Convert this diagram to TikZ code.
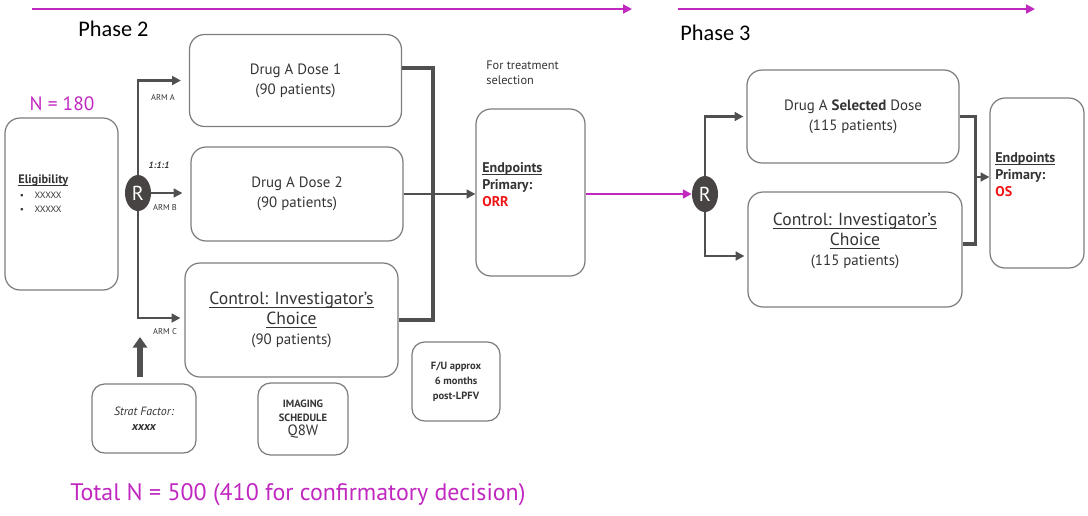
\documentclass[tikz,border=0pt]{standalone}
\usepackage{fontspec}
\setmainfont{PT Sans}
\newfontfamily\phasefont{Carlito}
\usetikzlibrary{arrows.meta,shapes.geometric}

\definecolor{plum}{RGB}{192,40,192}
\definecolor{linegrey}{RGB}{80,80,80}
\definecolor{boxgrey}{RGB}{125,125,125}
\definecolor{txtgrey}{RGB}{52,52,52}
\definecolor{rgrey}{RGB}{72,68,68}
\definecolor{orrred}{RGB}{240,20,20}

\newcommand{\fsz}[2]{\fontsize{#1}{#2}\selectfont}
\newsavebox{\ulbox}
\newcommand{\ulin}[1]{\sbox{\ulbox}{#1}\rlap{\raisebox{0pt}[0pt][0pt]{\rule[-1.6pt]{\wd\ulbox}{0.5pt}}}\usebox{\ulbox}}

\begin{document}
\begin{tikzpicture}[x=0.02cm, y=-0.02cm]
  \tikzstyle{arm}=[rectangle, draw=boxgrey, line width=0.7pt, rounded corners=0.3cm, align=center, text=txtgrey, font=\fsz{8.5}{11.3}, inner sep=0pt]
  \tikzstyle{smallbox}=[rectangle, draw=boxgrey, line width=0.7pt, rounded corners=0.25cm, align=center, text=txtgrey, inner sep=0pt]
  \tikzstyle{rand}=[ellipse, fill=rgrey, text=white, minimum width=0.52cm, minimum height=0.72cm, inner sep=0pt, font=\fsz{11.5}{11.5}]
  \tikzstyle{armlabel}=[text=txtgrey, font=\fsz{4.8}{5}, inner sep=0pt]
  \tikzstyle{eptext}=[anchor=north west, align=left, text=txtgrey, font=\bfseries\fsz{8}{9.6}, inner sep=0pt]
  \tikzstyle{line}=[draw=linegrey, line width=1.4pt, -{Triangle[length=5pt,width=5pt]}]
  \tikzstyle{bracket}=[draw=linegrey, line width=2pt]
  \tikzstyle{timeline}=[draw=plum, line width=1.1pt, -{Triangle[length=5pt,width=5pt]}]

  \useasboundingbox (0,0) rectangle (1088,515);

  % phase 2 / phase 3 headers
  \coordinate (p2start) at (32,9);
  \coordinate (p2end) at (632,9);
  \coordinate (p3start) at (678,9);
  \coordinate (p3end) at (1035,9);
  \draw [timeline] (p2start) -- (p2end);
  \draw [timeline] (p3start) -- (p3end);
  \node [anchor=west, inner sep=0pt, font=\phasefont\fsz{12.7}{13}] (phase2) at (78,29) {Phase 2};
  \node [anchor=west, inner sep=0pt, font=\phasefont\fsz{12.7}{13}] (phase3) at (680,33) {Phase 3};

  % eligibility
  \node [text=plum, font=\fsz{11}{11}, inner sep=0pt] (n180) at (62,104) {N = 180};
  \node [arm, minimum width=2.26cm, minimum height=3.44cm] (elig) at (61.5,204) {};
  \node [anchor=north west, align=left, text=txtgrey, inner sep=0pt, font=\fsz{7}{8.5}] (eligtext) at (18,174) {
    \textbf{\ulin{Eligibility}}\\
    {\fsz{5.2}{8.5}\,\textbullet\hspace{6pt}XXXXX}\\
    {\fsz{5.2}{8.5}\,\textbullet\hspace{6pt}XXXXX}
  };

  % randomisation, phase 2
  \node [rand] (r1) at (138,193) {R};
  \node [arm, minimum width=4.24cm, minimum height=1.84cm] (dose1) at (295.5,80.5) {
    Drug A Dose 1\\ (90 patients)
  };
  \node [arm, minimum width=4.24cm, minimum height=1.88cm] (dose2) at (297,194) {
    Drug A Dose 2\\ (90 patients)
  };
  \node [arm, minimum width=4.26cm, minimum height=2.28cm] (ctrl) at (291.5,320) {
    {\fsz{10}{10.8}\ulin{Control: Investigator’s}}\\
    {\fsz{10}{10.8}\ulin{Choice}}\\
    (90 patients)
  };

  \node [armlabel] (arma) at (163,97) {ARM A};
  \node [armlabel, font=\bfseries\itshape\fsz{5.2}{5.2}] (ratio) at (159,165) {1:1:1};
  \node [armlabel] (armb) at (165,208) {ARM B};
  \node [armlabel] (armc) at (165,332) {ARM C};

  \draw [line] (r1) |- ([xshift=-0.16cm]dose1.west);
  \draw [line] (r1) -- ([xshift=-0.16cm]r1 -| dose2.west);
  \draw [line] (r1) |- ([xshift=-0.08cm,yshift=0.04cm]ctrl.west);

  % strat factor, imaging, follow-up
  \node [smallbox, minimum width=2.08cm, minimum height=1.38cm, font=\itshape\fsz{6.8}{8.5}] (strat) at (144,418.5) {
    Strat Factor:\\ \textbf{xxxx}
  };
  \coordinate (stratup) at (140,337);
  \draw [draw=linegrey, line width=3pt, -{Triangle[length=6pt,width=8pt]}] (strat.north -| stratup) ++(0,-6) -- (stratup);
  \node [smallbox, minimum width=1.8cm, minimum height=1.44cm, font=\bfseries\fsz{6}{8}] (imaging) at (303,419) {
    IMAGING\\ SCHEDULE\\ {\mdseries\fsz{8.5}{8.5}Q8W}
  };
  \node [smallbox, minimum width=1.76cm, minimum height=1.58cm, font=\bfseries\fsz{6}{8.5}] (fu) at (456,381.5) {
    F/U approx\\ 6 months\\ post-LPFV
  };

  % endpoints, phase 2
  \node [anchor=north west, align=left, text=txtgrey, inner sep=0pt, font=\fsz{7}{8.5}] (select) at (486,61) {
    For treatment\\ selection
  };
  \node [arm, minimum width=2.18cm, minimum height=3.34cm] (ep1) at (530.5,192.5) {};
  \node [eptext] (ep1text) at (482,162) {
    \ulin{Endpoints}\\ Primary:\\ \textcolor{orrred}{ORR}
  };

  \draw [bracket] ([yshift=0.25cm]dose1.east) -- ++(31,0) |- (ctrl.east);
  \draw [line] (dose2.east) -- (dose2.east -| ep1.west);

  % randomisation, phase 3
  \node [rand] (r2) at (705,194) {R};
  \draw [timeline] (ep1.east |- r2) -- (r2.west);

  \node [arm, minimum width=4.24cm, minimum height=1.86cm] (sel) at (853,116.5) {
    Drug A \textbf{Selected} Dose\\ (115 patients)
  };
  \node [arm, minimum width=4.28cm, minimum height=2.3cm] (ctrl3) at (855,249.5) {
    {\fsz{10}{10.8}\ulin{Control: Investigator’s}}\\
    {\fsz{10}{10.8}\ulin{Choice}}\\
    (115 patients)\\ ~
  };
  \draw [line] (r2) |- ([xshift=-0.06cm]sel.west);
  \draw [line] (r2) |- ([xshift=-0.06cm,yshift=-0.13cm]ctrl3.west);

  % endpoints, phase 3
  \node [arm, minimum width=1.88cm, minimum height=3.4cm] (ep2) at (1037,183) {};
  \node [eptext] (ep2text) at (995,152) {
    \ulin{Endpoints}\\ Primary:\\ \textcolor{orrred}{OS}
  };
  \draw [bracket] (sel.east) -- ++(16,0) |- ([yshift=0.11cm]ctrl3.east);
  \coordinate (join3) at (976,177);
  \draw [line, line width=1.2pt] (join3) -- (join3 -| ep2.west);

  % total
  \node [anchor=west, text=plum, inner sep=0pt, font=\fsz{13.6}{14}] (total) at (70,495) {Total N = 500 (410 for confirmatory decision)};
\end{tikzpicture}
\end{document}
